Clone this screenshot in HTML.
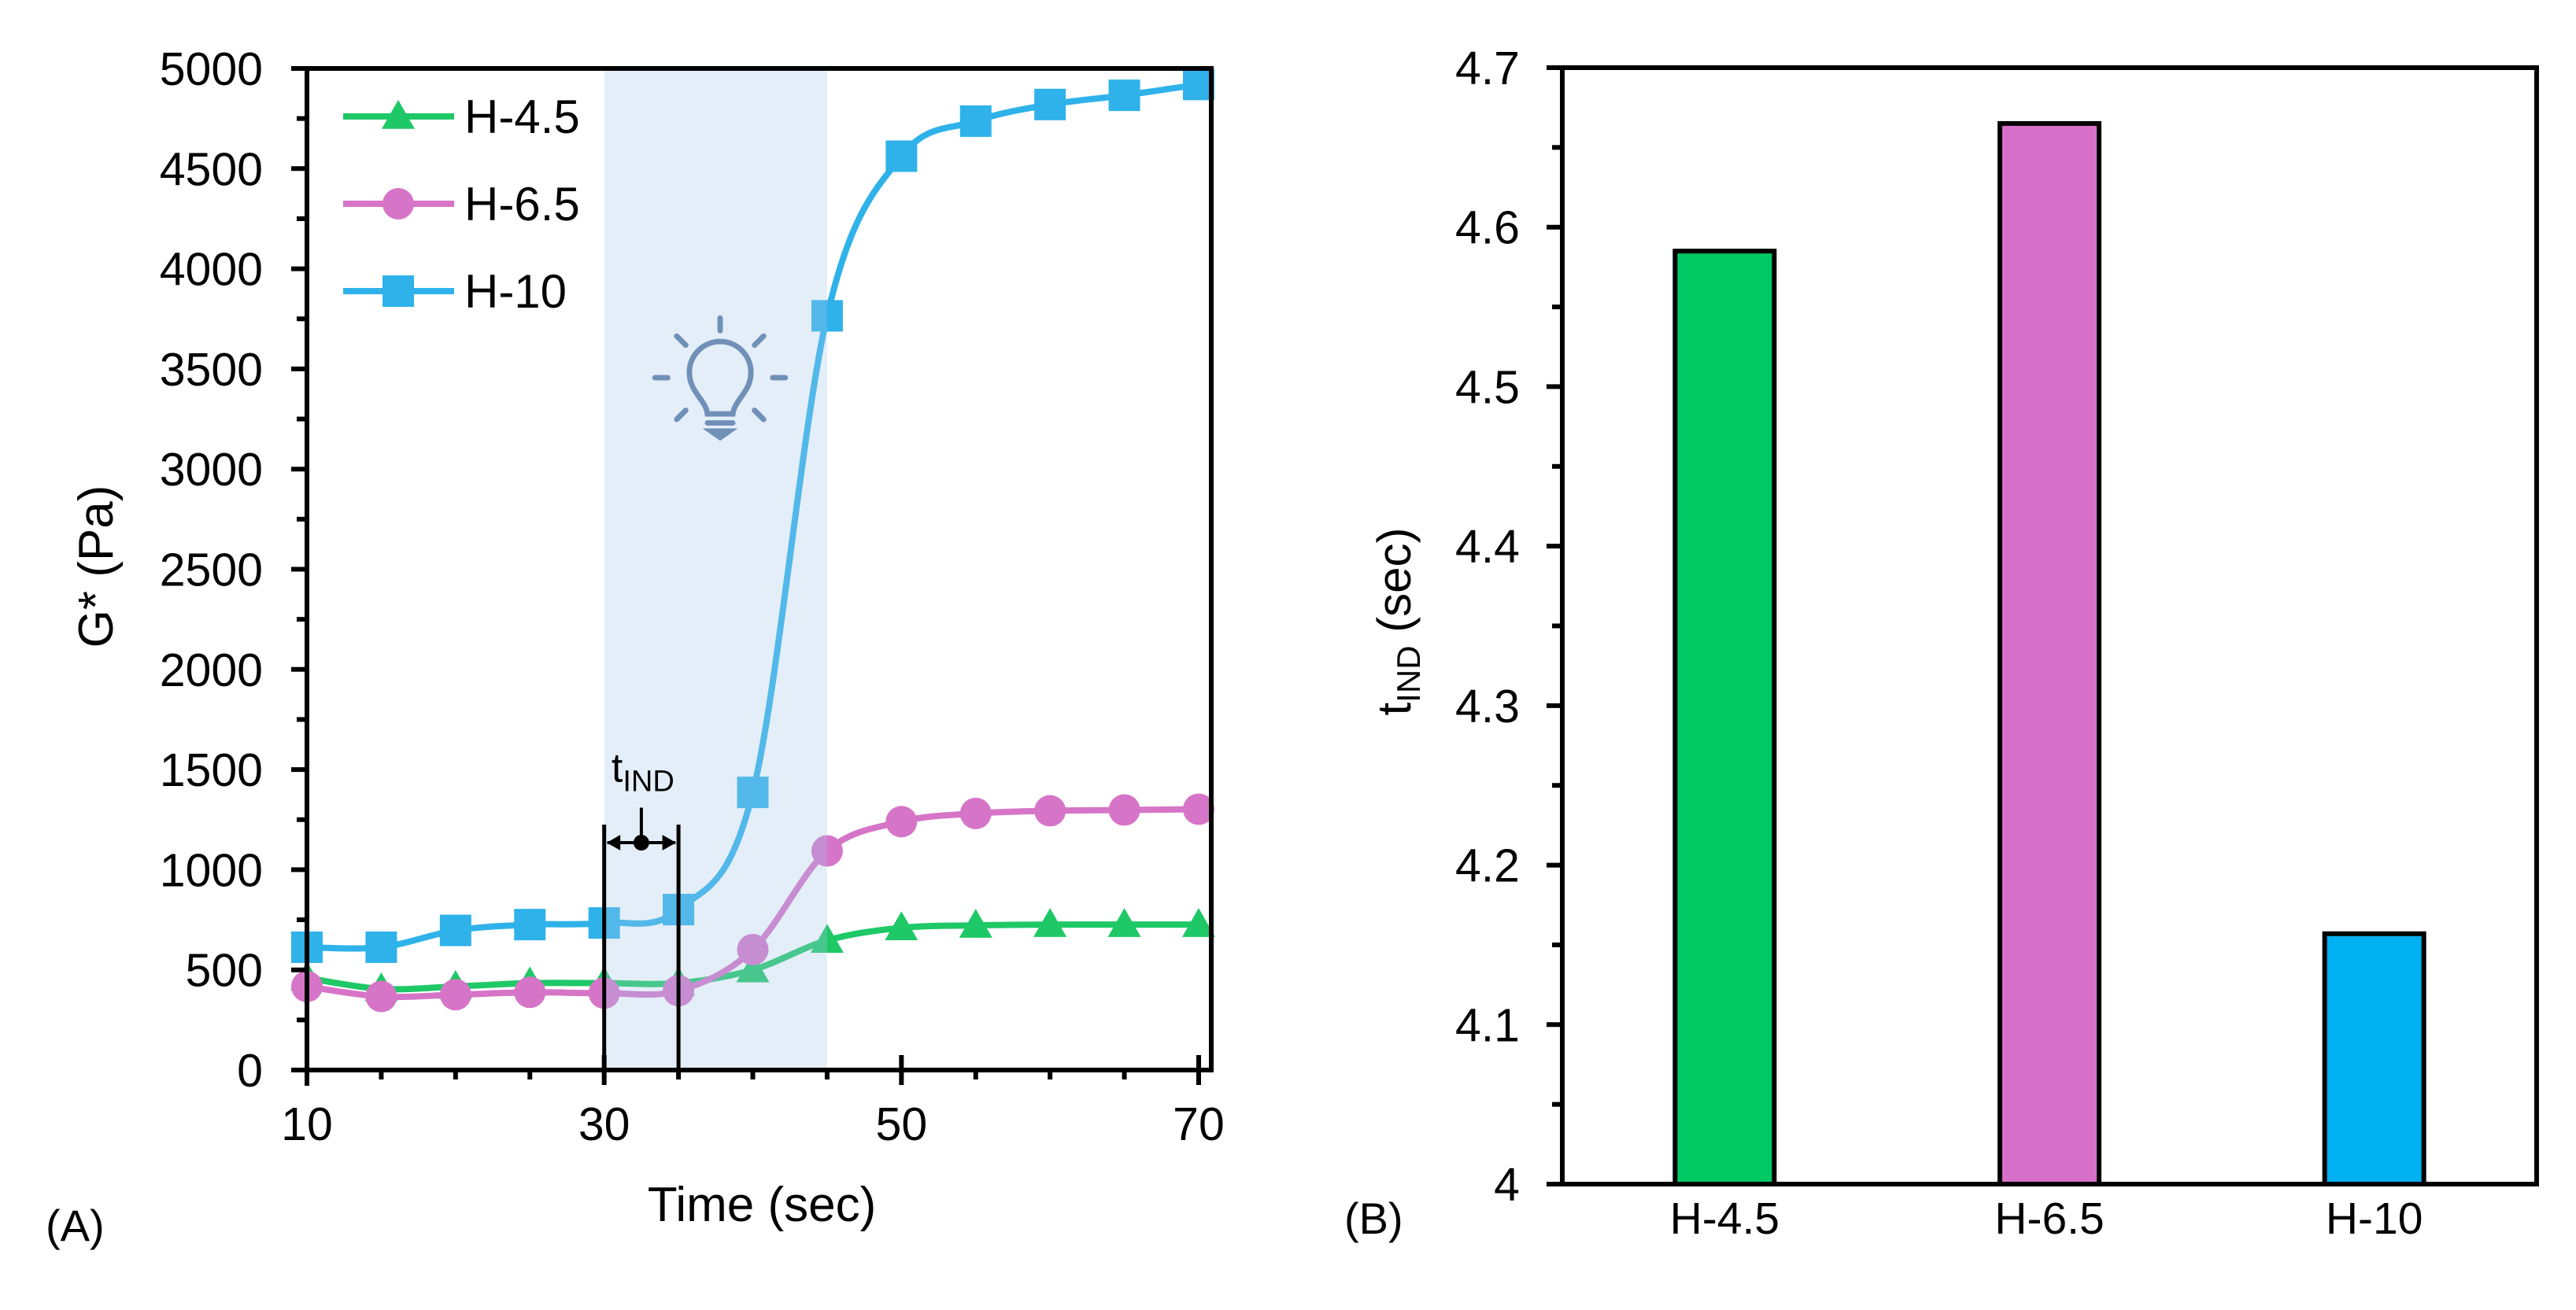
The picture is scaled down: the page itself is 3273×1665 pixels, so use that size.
<!DOCTYPE html>
<html><head><meta charset="utf-8"><style>
html,body{margin:0;padding:0;background:#fff}
svg{display:block;font-family:"Liberation Sans",Arial,sans-serif}
</style></head><body>
<svg id="fig" width="3273" height="1665" viewBox="0 0 3273 1665">
<g id="panelA"></g>
<g id="panelB"></g>
</svg>
<script>
// ---- Panel A data ----
const times = [10,15,20,25,30,35,40,45,50,55,60,65,70];
const seriesNames = ["H-4.5","H-6.5","H-10"];
const h45 = [460,405,417,434,434,434,500,647,710,722,726,726,726];
const h65 = [417,367,376,388,384,396,601,1094,1240,1281,1294,1298,1302];
const h10 = [613,613,697,726,734,801,1386,3765,4562,4737,4820,4866,4920];
const yTicksA = [0,500,1000,1500,2000,2500,3000,3500,4000,4500,5000];
const xTicksA = [10,30,50,70];
const lightStart = 30, lightEnd = 45;
const tindStart = 30, tindEnd = 35;
// ---- Panel B data ----
const categories = ["H-4.5","H-6.5","H-10"];
const tind = [4.585,4.665,4.157];
const yTicksB = [4,4.1,4.2,4.3,4.4,4.5,4.6,4.7];

const NS="http://www.w3.org/2000/svg";
function mk(parent,tag,attrs,text){const e=document.createElementNS(NS,tag);for(const k in attrs)e.setAttribute(k,attrs[k]);if(text!==undefined)e.textContent=text;parent.appendChild(e);return e;}

// ===== Panel A =====
const A=document.getElementById('panelA');
const ax={x0:390,x1:1523,y0:1360,y1:87,xr:1539};
const xA=v=>ax.x0+(v-10)/(70-10)*(ax.x1-ax.x0);
const yA=v=>ax.y0-v/5000*(ax.y0-ax.y1);
const cols=["#1fc866","#d675c8","#2fb2ea"];

function spline(pts){let d=`M${pts[0][0]},${pts[0][1]}`;for(let i=0;i<pts.length-1;i++){const p0=pts[Math.max(0,i-1)],p1=pts[i],p2=pts[i+1],p3=pts[Math.min(pts.length-1,i+2)];const t=6;d+=` C${p1[0]+(p2[0]-p0[0])/t},${p1[1]+(p2[1]-p0[1])/t} ${p2[0]-(p3[0]-p1[0])/t},${p2[1]-(p3[1]-p1[1])/t} ${p2[0]},${p2[1]}`;}return d;}
function marker(g,k,x,y,c){
  if(k===0){const s=21;const m=mk(g,'polygon',{points:`${x},${y-s} ${x+s},${y+s*0.75} ${x-s},${y+s*0.75}`,fill:c});}
  else if(k===1){const m=mk(g,'circle',{cx:x,cy:y,r:20,fill:c});}
  else{const m=mk(g,'rect',{x:x-20,y:y-20,width:40,height:40,fill:c});}
}
const allS=[h45,h65,h10];
allS.forEach((s,k)=>{
  const g=mk(A,'g',{});
  
  
  const pts=times.map((t,i)=>[xA(t),yA(s[i])]);
  mk(g,'path',{d:spline(pts),fill:'none',stroke:cols[k],'stroke-width':8});
  pts.forEach(p=>marker(g,k,p[0],p[1],cols[k]));
});
const sh=mk(A,'rect',{x:xA(lightStart),y:ax.y1+3,width:xA(lightEnd)-xA(lightStart),height:ax.y0-ax.y1-3,fill:'#a6c8e8','fill-opacity':0.3});


const bulb=mk(A,'g',{transform:'translate(915,487) scale(1.15)',stroke:'#7090b8','stroke-width':6,fill:'none','stroke-linecap':'round'});


mk(bulb,'path',{d:'M-14,34 C-16,18 -34,10 -34,-12 A34,34 0 1 1 34,-12 C34,10 16,18 14,34 Z'});
mk(bulb,'line',{x1:-14,y1:44,x2:14,y2:44});
mk(bulb,'path',{d:'M-10,53 L10,53 L0,60 Z',fill:'#7090b8'});
[[0,-72,0,-58],[-48,-52,-38,-42],[48,-52,38,-42],[-72,-6,-58,-6],[72,-6,58,-6],[-48,40,-38,30],[48,40,38,30]].forEach(l=>mk(bulb,'line',{x1:l[0],y1:l[1],x2:l[2],y2:l[3]}));
const tg=mk(A,'g',{stroke:'#000','stroke-width':5});


const ta=xA(tindStart),tb=xA(tindEnd),ty=yA(1135),tm=(ta+tb)/2;
mk(tg,'line',{x1:ta,y1:ax.y0,x2:ta,y2:yA(1225)});
mk(tg,'line',{x1:tb,y1:ax.y0,x2:tb,y2:yA(1225)});
mk(tg,'line',{x1:ta+4,y1:ty,x2:tb-4,y2:ty,'stroke-width':4});
mk(tg,'path',{d:`M${ta+4},${ty} l16,-9 l0,18 Z M${tb-4},${ty} l-16,-9 l0,18 Z`,fill:'#000','stroke-width':1});
mk(tg,'line',{x1:tm,y1:ty,x2:tm,y2:yA(1310),'stroke-width':4});
mk(tg,'circle',{cx:tm,cy:ty,r:10,fill:'#000','stroke-width':0});
const tl=mk(A,'text',{x:tm-38,y:yA(1440),'font-size':52,fill:'#000'});


tl.innerHTML='t<tspan font-size="38" dy="12">IND</tspan>';
const axg=mk(A,'g',{stroke:'#000','stroke-width':6,fill:'none'});


mk(axg,'path',{d:`M${ax.x0-20},${ax.y1} L${ax.xr},${ax.y1} L${ax.xr},${ax.y0} L${ax.x0-20},${ax.y0} M${ax.x0},${ax.y1} L${ax.x0},${ax.y0+20}`});
for(let v=0;v<=5000;v+=250){const y=yA(v);mk(axg,'line',{x1:ax.x0-(v%500===0?20:13),y1:y,x2:ax.x0,y2:y});}
for(let t=10;t<=70;t+=5){const x=xA(t);const maj=xTicksA.includes(t);mk(axg,'line',{x1:x,y1:maj?ax.y0-19:ax.y0,x2:x,y2:ax.y0+(maj?19:12)});}
yTicksA.forEach(v=>{const e=mk(A,'text',{x:334,y:yA(v)+21,'font-size':59,'text-anchor':'end'},String(v));});
xTicksA.forEach(v=>{const e=mk(A,'text',{x:xA(v),y:1449,'font-size':59,'text-anchor':'middle'},String(v));});
let e=mk(A,'text',{x:968,y:1552,'font-size':62,'text-anchor':'middle'},'Time (sec)');
e=mk(A,'text',{x:0,y:0,'font-size':62,'text-anchor':'middle',transform:'translate(143,720) rotate(-90)'},'G* (Pa)');
e=mk(A,'text',{x:58,y:1577,'font-size':56},'(A)');
seriesNames.forEach((n,k)=>{
  const lg=mk(A,'g',{});
  
  
  const y=148+k*111;
  mk(lg,'line',{x1:436,y1:y,x2:577,y2:y,stroke:cols[k],'stroke-width':8});
  marker(lg,k,506,y,cols[k]);
  mk(lg,'text',{x:590,y:y+21,'font-size':60},n);
});

// ===== Panel B =====
const B=document.getElementById('panelB');
const bx={x0:1985,x1:3223,y0:1505,y1:86};
const yB=v=>bx.y0-(v-4)/(4.7-4)*(bx.y0-bx.y1);
const cw=(bx.x1-bx.x0)/categories.length;
const xB=i=>bx.x0+cw*(i+0.5);
const bcols=["#00c964","#d770c8","#00b0f0"];
tind.forEach((v,i)=>{
  const r=mk(B,'rect',{x:xB(i)-63,y:yB(v),width:126,height:bx.y0-yB(v),fill:bcols[i],stroke:'#000','stroke-width':6});
  
  
  const t=mk(B,'text',{x:xB(i),y:1568,'font-size':57,'text-anchor':'middle'},categories[i]);
  
  
});
const bg=mk(B,'g',{stroke:'#000','stroke-width':6,fill:'none'});


mk(bg,'path',{d:`M${bx.x0-20},${bx.y1} L${bx.x1},${bx.y1} L${bx.x1},${bx.y0} L${bx.x0-20},${bx.y0} M${bx.x0},${bx.y1} L${bx.x0},${bx.y0}`});
for(let k=0;k<=14;k++){const v=4+k*0.05;const y=yB(v);mk(bg,'line',{x1:bx.x0-(k%2===0?20:13),y1:y,x2:bx.x0,y2:y});}
yTicksB.forEach(v=>{const t=mk(B,'text',{x:1931,y:yB(v)+21,'font-size':59,'text-anchor':'end'},String(v));});
e=mk(B,'text',{x:0,y:0,'font-size':60,'text-anchor':'middle',transform:'translate(1792,790) rotate(-90)'});
e.innerHTML='t<tspan font-size="42" dy="12">IND</tspan><tspan dy="-12"> (sec)</tspan>';


e=mk(B,'text',{x:1708,y:1568,'font-size':56},'(B)');
</script>
</body></html>
